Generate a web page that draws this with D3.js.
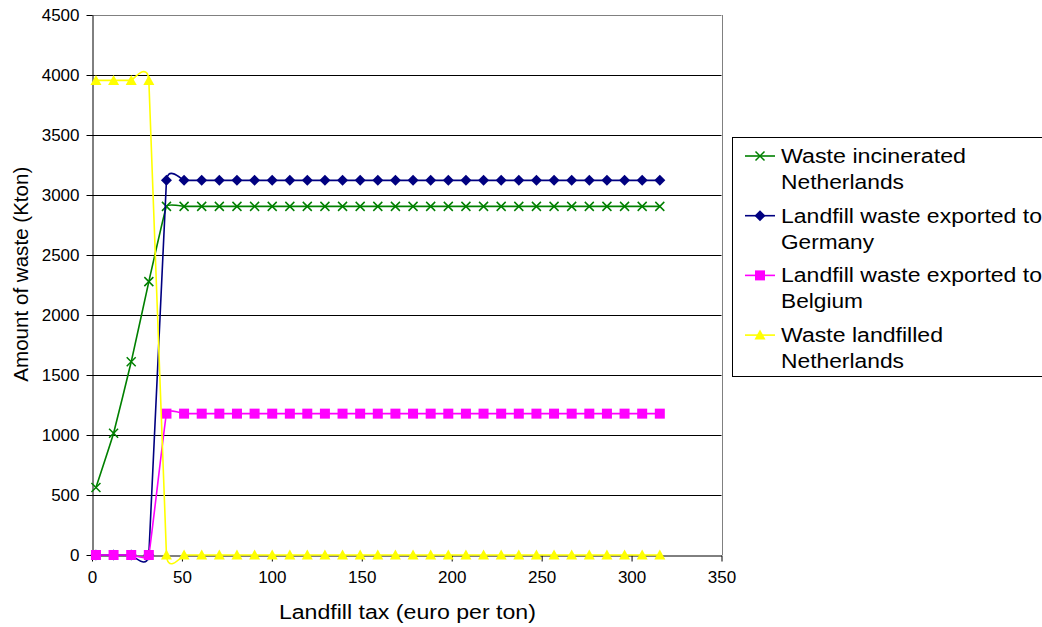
<!DOCTYPE html>
<html><head><meta charset="utf-8">
<script src="https://cdn.jsdelivr.net/npm/d3@7"></script>
<style>body{margin:0;background:#fff;font-family:"Liberation Sans",Arial,sans-serif}</style>
</head><body><svg id="c" width="1042" height="627"></svg>
<script>
const taxValues = [2.2,12.0,21.8,31.6,41.4,51.2,61.0,70.8,80.6,90.4,100.2,110.0,119.7,129.5,139.3,149.1,158.9,168.7,178.5,188.3,198.1,207.9,217.7,227.5,237.3,247.1,256.9,266.7,276.5,286.3,296.1,305.9,315.7];
const incineratedNL = [562,1015,1610,2278,2905,2905,2905,2905,2905,2905,2905,2905,2905,2905,2905,2905,2905,2905,2905,2905,2905,2905,2905,2905,2905,2905,2905,2905,2905,2905,2905,2905,2905];
const exportedDE = [0,0,0,0,3122,3122,3122,3122,3122,3122,3122,3122,3122,3122,3122,3122,3122,3122,3122,3122,3122,3122,3122,3122,3122,3122,3122,3122,3122,3122,3122,3122,3122];
const exportedBE = [0,0,0,0,1178,1178,1178,1178,1178,1178,1178,1178,1178,1178,1178,1178,1178,1178,1178,1178,1178,1178,1178,1178,1178,1178,1178,1178,1178,1178,1178,1178,1178];
const landfilledNL = [3955,3955,3955,3955,0,0,0,0,0,0,0,0,0,0,0,0,0,0,0,0,0,0,0,0,0,0,0,0,0,0,0,0,0];
const seriesNames = [["Waste incinerated","Netherlands"],["Landfill waste exported to","Germany"],["Landfill waste exported to","Belgium"],["Waste landfilled","Netherlands"]];
const seriesColors = ["#008000","#000080","#FF00FF","#FFFF00"];
const seriesMarkers = ["x","diamond","square","triangle"];
const xTicks = [0,50,100,150,200,250,300,350];
const yTicks = [0,500,1000,1500,2000,2500,3000,3500,4000,4500];
const xLabel = "Landfill tax (euro per ton)";
const yLabel = "Amount of waste (Kton)";

const allSeries = [incineratedNL, exportedDE, exportedBE, landfilledNL];
const svg = d3.select("#c");
const FONT = "'Liberation Sans', Arial, sans-serif";
const L=92, R=721.5, T=15, B=555;
const x = d3.scaleLinear().domain([0,350]).range([L,R]);
const y = d3.scaleLinear().domain([0,4500]).range([B,T]);

// gridlines
svg.append("g").selectAll("line").data(yTicks.filter(d=>d>0)).join("line")
  .attr("x1",L).attr("x2",R).attr("y1",d=>Math.round(y(d))+0.5).attr("y2",d=>Math.round(y(d))+0.5)
  .attr("stroke",d=>d===4500?"#808080":"#000").attr("stroke-width",1);
svg.append("line").attr("x1",Math.round(R)+0.5).attr("x2",Math.round(R)+0.5).attr("y1",T).attr("y2",B)
  .attr("stroke","#808080");

// axes
const xAxis = svg.append("g").attr("transform",`translate(0,${Math.round(B)+0.5})`)
  .call(d3.axisBottom(x).tickValues(xTicks).tickFormat(d3.format("d")).tickSize(6).tickSizeOuter(0).tickPadding(9));
const yAxis = svg.append("g").attr("transform",`translate(${L+0.5},0)`)
  .call(d3.axisLeft(y).tickValues(yTicks).tickFormat(d3.format("d")).tickSize(6).tickSizeOuter(0).tickPadding(7));
[xAxis,yAxis].forEach(a=>{
  a.selectAll("text").attr("font-size",17).attr("font-family",FONT).attr("fill","#000");
  a.selectAll("line,path").attr("stroke","#000");
});

svg.append("text").attr("x",407.4).attr("y",619).attr("text-anchor","middle")
  .attr("font-family",FONT).attr("font-size",20)
  .attr("textLength",257).attr("lengthAdjust","spacingAndGlyphs").text(xLabel);
svg.append("text").attr("transform",`translate(28,274.2) rotate(-90)`).attr("text-anchor","middle")
  .attr("font-family",FONT).attr("font-size",20)
  .attr("textLength",215).attr("lengthAdjust","spacingAndGlyphs").text(yLabel);

function marker(g, type, color, cx, cy){
  if(type==="x"){
    const s=4.5;
    g.append("path").attr("d",`M${cx-s},${cy-s}L${cx+s},${cy+s}M${cx-s},${cy+s}L${cx+s},${cy-s}`)
      .attr("stroke",color).attr("stroke-width",1.5).attr("fill","none");
  } else if(type==="diamond"){
    const s=5.5;
    g.append("path").attr("d",`M${cx},${cy-s}L${cx+s},${cy}L${cx},${cy+s}L${cx-s},${cy}Z`).attr("fill",color);
  } else if(type==="square"){
    const s=5;
    g.append("rect").attr("x",cx-s).attr("y",cy-s).attr("width",2*s).attr("height",2*s).attr("fill",color);
  } else {
    const s=5.5;
    g.append("path").attr("d",`M${cx},${cy-s}L${cx+s},${cy+s-1}L${cx-s},${cy+s-1}Z`).attr("fill",color);
  }
}

const line = d3.line().x(d=>x(d[0])).y(d=>y(d[1])).curve(d3.curveCardinal.tension(0.75));
allSeries.forEach((vals,i)=>{
  const pts = taxValues.map((t,j)=>[t,vals[j]]);
  const g = svg.append("g");
  g.append("path").attr("d",line(pts)).attr("fill","none").attr("stroke",seriesColors[i]).attr("stroke-width",1.6);
  pts.forEach(p=>marker(g, seriesMarkers[i], seriesColors[i], x(p[0]), y(p[1])));
});

// legend
const legendWidths = [[185,123],[261,93],[261,82],[162,123]];
const lg = svg.append("g");
lg.append("rect").attr("x",732.5).attr("y",137.5).attr("width",330).attr("height",239)
  .attr("fill","#fff").attr("stroke","#000");
seriesNames.forEach((nm,i)=>{
  const base = 163 + i*59.7;
  const ly = base-7;
  lg.append("line").attr("x1",745).attr("x2",775).attr("y1",ly).attr("y2",ly)
    .attr("stroke",seriesColors[i]).attr("stroke-width",1.6);
  marker(lg, seriesMarkers[i], seriesColors[i], 760, ly);
  nm.forEach((t,k)=>{
    lg.append("text").attr("x",781).attr("y",base+k*26).attr("font-family",FONT).attr("font-size",20)
      .attr("textLength",legendWidths[i][k]).attr("lengthAdjust","spacingAndGlyphs").text(t);
  });
});
</script></body></html>
